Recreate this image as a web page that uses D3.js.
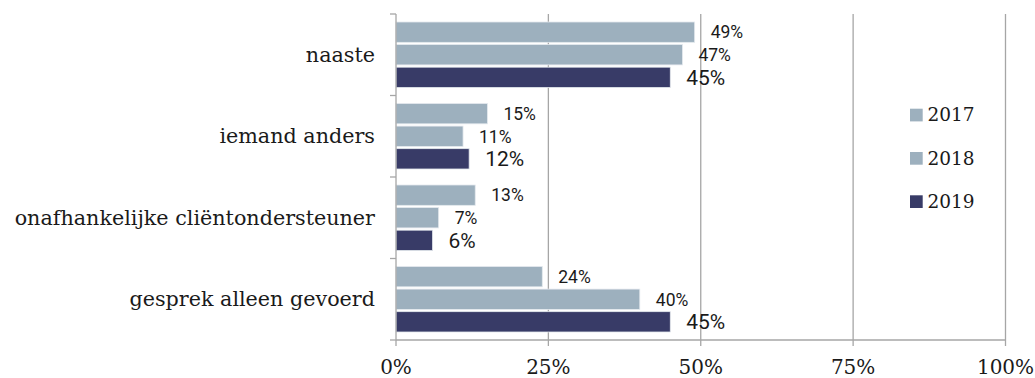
<!DOCTYPE html>
<html>
<head>
<meta charset="utf-8">
<script src="https://cdn.jsdelivr.net/npm/d3@7"></script>
<style>
  html, body { margin: 0; padding: 0; background: #fff; }
  svg { display: block; }
</style>
</head>
<body>
<svg id="chart" width="1035" height="378"></svg>
<script>
// Categories, top to bottom
const categories = ["naaste", "iemand anders", "onafhankelijke cliëntondersteuner", "gesprek alleen gevoerd"];
// Series (years)
const years = ["2017", "2018", "2019"];
// Shares per category, in percent
const values2017 = [49, 15, 13, 24];
const values2018 = [47, 11, 7, 40];
const values2019 = [45, 12, 6, 45];
// Axis ticks
const xTicks = [0, 25, 50, 75, 100];

const seriesValues = [values2017, values2018, values2019];
const colors = ["#9db0be", "#9db0be", "#383b67"];

const svg = d3.select("#chart");
const serif = "'DejaVu Serif', serif";
const sans = "Roboto, 'Liberation Sans', sans-serif";

const x = d3.scaleLinear().domain([0, 100]).range([396, 1005.5]);
const y = d3.scaleBand().domain(categories).range([14, 340]).paddingInner(0).paddingOuter(0);
const inner = d3.scaleBand().domain(years).range([8, y.bandwidth() - 8]).paddingInner(0.1).paddingOuter(0);

// Gridlines
svg.append("g")
  .selectAll("line")
  .data(xTicks.filter(t => t > 0))
  .join("line")
  .attr("x1", d => x(d)).attr("x2", d => x(d))
  .attr("y1", 14).attr("y2", 340)
  .attr("stroke", "#a6a6a6").attr("stroke-width", 1.3);

// Bars
const groups = svg.append("g")
  .selectAll("g")
  .data(categories)
  .join("g")
  .attr("transform", d => `translate(0,${y(d)})`);

years.forEach((yr, si) => {
  groups.append("rect")
    .attr("x", x(0))
    .attr("y", inner(yr))
    .attr("width", (d, i) => x(seriesValues[si][i]) - x(0))
    .attr("height", inner.bandwidth())
    .attr("fill", colors[si])
    .attr("stroke", "#e4e9ee")
    .attr("stroke-width", 0.8);

  groups.append("text")
    .attr("x", (d, i) => x(seriesValues[si][i]) + 16)
    .attr("y", inner(yr) + inner.bandwidth() / 2)
    .attr("dy", "0.36em")
    .attr("font-family", sans)
    .attr("font-size", si === 2 ? 21 : 17.5)
    .attr("fill", "#1a1a1a")
    .text((d, i) => seriesValues[si][i] + "%");
});

// Y axis
const yAxis = svg.append("g").attr("transform", `translate(${x(0)},0)`);
yAxis.append("line")
  .attr("x1", 0).attr("x2", 0).attr("y1", 14).attr("y2", 340)
  .attr("stroke", "#a6a6a6").attr("stroke-width", 1.3);
yAxis.selectAll("line.tick")
  .data(categories.map(c => y(c)).concat([340]))
  .join("line")
  .attr("class", "tick")
  .attr("x1", -6).attr("x2", 0)
  .attr("y1", d => d).attr("y2", d => d)
  .attr("stroke", "#a6a6a6").attr("stroke-width", 1.3);
svg.append("g")
  .selectAll("text")
  .data(categories)
  .join("text")
  .attr("x", 375)
  .attr("y", d => y(d) + y.bandwidth() / 2)
  .attr("dy", "0.35em")
  .attr("text-anchor", "end")
  .attr("font-family", serif)
  .attr("font-size", 20.7)
  .attr("fill", "#1a1a1a")
  .text(d => d);

// X axis
const xAxis = svg.append("g").attr("transform", "translate(0,340)");
xAxis.append("line")
  .attr("x1", x(0)).attr("x2", x(100)).attr("y1", 0).attr("y2", 0)
  .attr("stroke", "#a6a6a6").attr("stroke-width", 1.3);
xAxis.selectAll("line.tick")
  .data(xTicks)
  .join("line")
  .attr("class", "tick")
  .attr("x1", d => x(d)).attr("x2", d => x(d))
  .attr("y1", 0).attr("y2", 6)
  .attr("stroke", "#a6a6a6").attr("stroke-width", 1.3);
xAxis.selectAll("text")
  .data(xTicks)
  .join("text")
  .attr("x", d => x(d))
  .attr("y", 34)
  .attr("text-anchor", "middle")
  .attr("font-family", serif)
  .attr("font-size", 20)
  .attr("fill", "#1a1a1a")
  .text(d => d + "%");

// Legend
const legend = svg.append("g")
  .selectAll("g")
  .data(years)
  .join("g")
  .attr("transform", (d, i) => `translate(910,${115 + i * 43.3})`);
legend.append("rect")
  .attr("x", 0).attr("y", -6.3)
  .attr("width", 12.7).attr("height", 12.7)
  .attr("fill", (d, i) => colors[i]);
legend.append("text")
  .attr("x", 17.5)
  .attr("y", 0)
  .attr("dy", "0.35em")
  .attr("font-family", serif)
  .attr("font-size", 18.5)
  .attr("fill", "#1a1a1a")
  .text(d => d);
</script>
</body>
</html>
